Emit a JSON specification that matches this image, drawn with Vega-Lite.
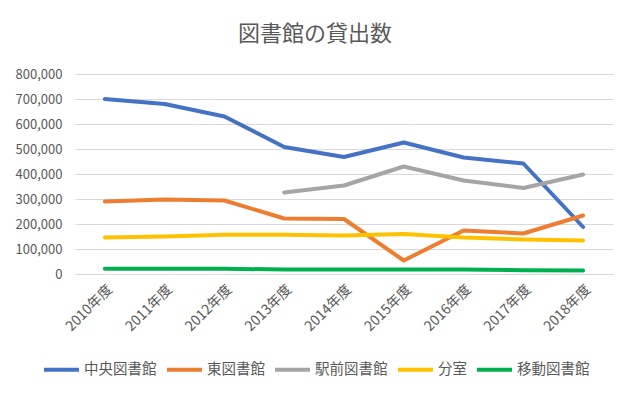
{
  "$schema": "https://vega.github.io/schema/vega-lite/v6.json",
  "width": 538,
  "height": 200,
  "autosize": "none",
  "padding": {"left": 75, "top": 74, "right": 23, "bottom": 123},
  "background": "white",
  "title": {
    "text": "図書館の貸出数",
    "font": "Noto Sans CJK JP",
    "fontSize": 22,
    "fontWeight": "normal",
    "color": "#595959",
    "anchor": "middle",
    "dx": -29,
    "offset": 22
  },
  "config": {
    "view": {"stroke": null},
    "font": "Noto Sans CJK JP"
  },
  "data": {
    "values": [
      {"year": "2010年度", "library": "中央図書館", "value": 700000},
      {"year": "2011年度", "library": "中央図書館", "value": 680000},
      {"year": "2012年度", "library": "中央図書館", "value": 630000},
      {"year": "2013年度", "library": "中央図書館", "value": 508000},
      {"year": "2014年度", "library": "中央図書館", "value": 468000},
      {"year": "2015年度", "library": "中央図書館", "value": 526000},
      {"year": "2016年度", "library": "中央図書館", "value": 466000},
      {"year": "2017年度", "library": "中央図書館", "value": 442000},
      {"year": "2018年度", "library": "中央図書館", "value": 188000},
      {"year": "2010年度", "library": "東図書館", "value": 290000},
      {"year": "2011年度", "library": "東図書館", "value": 298000},
      {"year": "2012年度", "library": "東図書館", "value": 294000},
      {"year": "2013年度", "library": "東図書館", "value": 222000},
      {"year": "2014年度", "library": "東図書館", "value": 220000},
      {"year": "2015年度", "library": "東図書館", "value": 54000},
      {"year": "2016年度", "library": "東図書館", "value": 174000},
      {"year": "2017年度", "library": "東図書館", "value": 162000},
      {"year": "2018年度", "library": "東図書館", "value": 234000},
      {"year": "2013年度", "library": "駅前図書館", "value": 326000},
      {"year": "2014年度", "library": "駅前図書館", "value": 354000},
      {"year": "2015年度", "library": "駅前図書館", "value": 430000},
      {"year": "2016年度", "library": "駅前図書館", "value": 374000},
      {"year": "2017年度", "library": "駅前図書館", "value": 344000},
      {"year": "2018年度", "library": "駅前図書館", "value": 398000},
      {"year": "2010年度", "library": "分室", "value": 146000},
      {"year": "2011年度", "library": "分室", "value": 150000},
      {"year": "2012年度", "library": "分室", "value": 157000},
      {"year": "2013年度", "library": "分室", "value": 157000},
      {"year": "2014年度", "library": "分室", "value": 154000},
      {"year": "2015年度", "library": "分室", "value": 160000},
      {"year": "2016年度", "library": "分室", "value": 146000},
      {"year": "2017年度", "library": "分室", "value": 138000},
      {"year": "2018年度", "library": "分室", "value": 134000},
      {"year": "2010年度", "library": "移動図書館", "value": 21000},
      {"year": "2011年度", "library": "移動図書館", "value": 21000},
      {"year": "2012年度", "library": "移動図書館", "value": 21000},
      {"year": "2013年度", "library": "移動図書館", "value": 18000},
      {"year": "2014年度", "library": "移動図書館", "value": 18000},
      {"year": "2015年度", "library": "移動図書館", "value": 18000},
      {"year": "2016年度", "library": "移動図書館", "value": 18000},
      {"year": "2017年度", "library": "移動図書館", "value": 15000},
      {"year": "2018年度", "library": "移動図書館", "value": 14000}
    ]
  },
  "mark": {"type": "line", "strokeWidth": 4, "strokeJoin": "round", "strokeCap": "round"},
  "encoding": {
    "x": {
      "field": "year",
      "type": "ordinal",
      "scale": {"type": "point", "padding": 0.5},
      "axis": {
        "title": null,
        "labelAngle": -45,
        "labelFontSize": 14,
        "labelColor": "#595959",
        "labelPadding": 8,
        "ticks": false,
        "domain": true,
        "domainColor": "#d9d9d9",
        "grid": false
      }
    },
    "y": {
      "field": "value",
      "type": "quantitative",
      "scale": {"domain": [0, 800000], "nice": false},
      "axis": {
        "title": null,
        "values": [0, 100000, 200000, 300000, 400000, 500000, 600000, 700000, 800000],
        "format": ",d",
        "labelFontSize": 13,
        "labelColor": "#595959",
        "labelPadding": 13,
        "ticks": false,
        "domain": false,
        "gridColor": "#d9d9d9",
        "gridWidth": 1
      }
    },
    "stroke": {
      "field": "library",
      "type": "nominal",
      "scale": {
        "domain": ["中央図書館", "東図書館", "駅前図書館", "分室", "移動図書館"],
        "range": ["#4472C4", "#ED7D31", "#A5A5A5", "#FFC000", "#00B050"]
      },
      "legend": {
        "title": null,
        "orient": "none",
        "direction": "horizontal",
        "columns": 5,
        "legendX": -33,
        "legendY": 276,
        "symbolType": "stroke",
        "symbolSize": 1225,
        "symbolStrokeWidth": 4,
        "labelFontSize": 14.5,
        "labelColor": "#595959",
        "labelOffset": 3,
        "columnPadding": 2
      }
    }
  }
}
